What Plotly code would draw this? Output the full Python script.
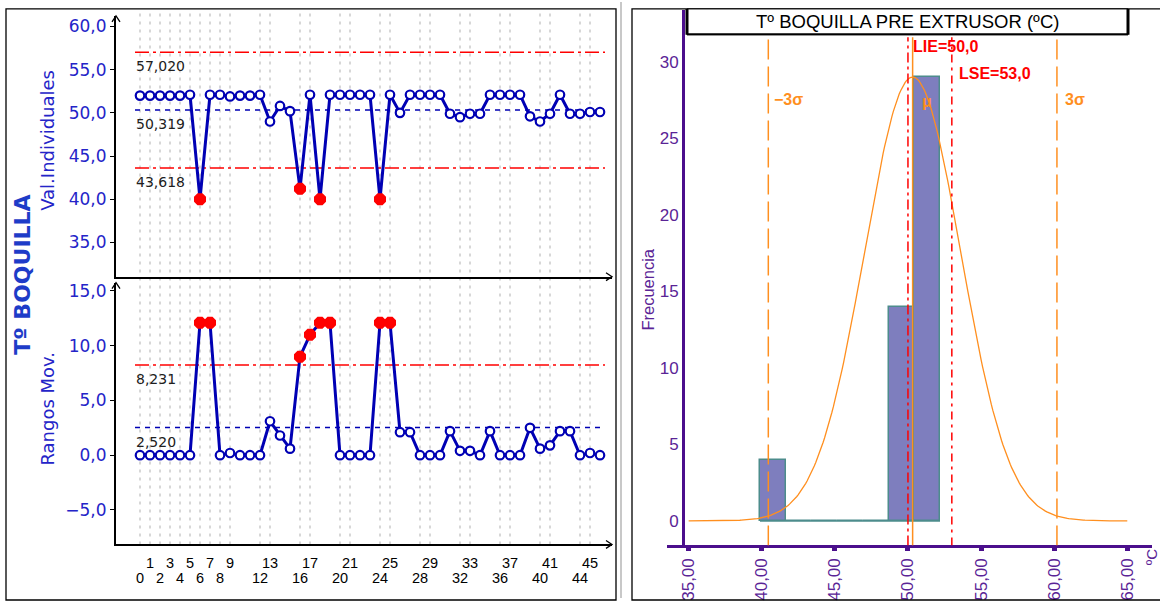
import numpy as np
import plotly.graph_objects as go

W, H = 1160, 601

# Individual readings of the nozzle temperature (ºC), in sampling order
valores = [52.0, 52.0, 52.0, 52.0, 52.0, 52.1, 40.0, 52.1, 52.1, 51.9,
           52.0, 52.0, 52.1, 49.0, 50.8, 50.2, 41.2, 52.1, 40.0, 52.1,
           52.1, 52.1, 52.1, 52.1, 40.0, 52.1, 50.0, 52.1, 52.1, 52.1,
           52.1, 49.9, 49.5, 49.9, 49.9, 52.1, 52.1, 52.1, 52.1, 49.6,
           49.0, 49.9, 52.1, 49.9, 49.9, 50.1, 50.1]
# Moving ranges between consecutive readings
rangos = [0.0, 0.0, 0.0, 0.0, 0.0, 0.0, 12.1, 12.1, 0.0, 0.2,
          0.0, 0.0, 0.0, 3.1, 1.8, 0.6, 9.0, 11.0, 12.1, 12.1,
          0.0, 0.0, 0.0, 0.0, 12.1, 12.1, 2.1, 2.1, 0.0, 0.0,
          0.0, 2.2, 0.4, 0.4, 0.0, 2.2, 0.0, 0.0, 0.0, 2.5,
          0.6, 0.9, 2.2, 2.2, 0.0, 0.2, 0.0]
muestras = list(range(len(valores)))

# Control limits
lsc_i, media_i, lic_i = 57.020, 50.319, 43.618
lsc_r, media_r = 8.231, 2.520

# Labelled sample positions on the shared axis
marcas = [0, 1, 2, 3, 4, 5, 6, 7, 8, 9, 12, 13, 16, 17, 20, 21, 24, 25,
          28, 29, 32, 33, 36, 37, 40, 41, 44, 45]

# Histogram
bordes = [39.88, 41.64, 43.40, 45.16, 46.92, 48.67, 50.43, 52.19]
frecuencias = [4, 0, 0, 0, 0, 14, 29]
mu, sigma = 50.319, 3.29
lie, lse = 50.0, 53.0
titulo_hist = "Tº BOQUILLA PRE EXTRUSOR (ºC)"

AZUL = "#0000b4"
AZUL_TXT = "#2424c8"
ROJO = "#ff0000"
NARANJA = "#ff8f1f"
MORADO = "#4b0f8c"
MORADO_TXT = "#5a2496"


def px(x):
    return x / W


def py(y):
    return 1 - y / H


def coma(v, d):
    return f"{v:.{d}f}".replace(".", ",")


fig = go.Figure()

# ---------- individual values chart ----------
x_lo, x_hi = muestras[0] - 0.5, muestras[-1] + 0.5
for lim, col, dash in [(lsc_i, ROJO, "14px,4px,3px,4px"),
                       (media_i, AZUL, "5px,5px"),
                       (lic_i, ROJO, "14px,4px,3px,4px")]:
    fig.add_trace(go.Scatter(x=[x_lo, x_hi], y=[lim, lim], mode="lines",
                             line=dict(color=col, width=1.5, dash=dash),
                             xaxis="x", yaxis="y", hoverinfo="skip"))
fig.add_trace(go.Scatter(x=muestras, y=valores, mode="lines+markers",
                         line=dict(color=AZUL, width=3),
                         marker=dict(symbol="circle", size=8.5, color="white",
                                     line=dict(color=AZUL, width=2.2)),
                         xaxis="x", yaxis="y"))
fuera_i = [i for i, v in enumerate(valores) if v < lic_i or v > lsc_i]
fig.add_trace(go.Scatter(x=fuera_i, y=[valores[i] for i in fuera_i], mode="markers",
                         marker=dict(symbol="octagon", size=13, color=ROJO,
                                     line=dict(color=ROJO, width=0)),
                         xaxis="x", yaxis="y"))

# ---------- moving range chart ----------
for lim, col, dash in [(lsc_r, ROJO, "14px,4px,3px,4px"),
                       (media_r, AZUL, "5px,5px")]:
    fig.add_trace(go.Scatter(x=[x_lo, x_hi], y=[lim, lim], mode="lines",
                             line=dict(color=col, width=1.5, dash=dash),
                             xaxis="x2", yaxis="y2", hoverinfo="skip"))
fig.add_trace(go.Scatter(x=muestras, y=rangos, mode="lines+markers",
                         line=dict(color=AZUL, width=3),
                         marker=dict(symbol="circle", size=8.5, color="white",
                                     line=dict(color=AZUL, width=2.2)),
                         xaxis="x2", yaxis="y2"))
fuera_r = [i for i, v in enumerate(rangos) if v > lsc_r]
fig.add_trace(go.Scatter(x=fuera_r, y=[rangos[i] for i in fuera_r], mode="markers",
                         marker=dict(symbol="octagon", size=13, color=ROJO,
                                     line=dict(color=ROJO, width=0)),
                         xaxis="x2", yaxis="y2"))

# ---------- histogram ----------
centros = [(a + b) / 2 for a, b in zip(bordes[:-1], bordes[1:])]
anchos = [b - a for a, b in zip(bordes[:-1], bordes[1:])]
fig.add_trace(go.Scatter(x=[bordes[0], bordes[-1]], y=[0, 0], mode="lines",
                         line=dict(color="#4d8c8c", width=1.5),
                         xaxis="x3", yaxis="y3", hoverinfo="skip"))
fig.add_trace(go.Bar(x=centros, y=frecuencias, width=anchos,
                     marker=dict(color="#7e7ebe", line=dict(color="#4d8c8c", width=1.5)),
                     xaxis="x3", yaxis="y3"))
xs = np.linspace(35, 65, 301)
curva = max(frecuencias) * np.exp(-0.5 * ((xs - mu) / sigma) ** 2)
fig.add_trace(go.Scatter(x=xs, y=curva, mode="lines",
                         line=dict(color=NARANJA, width=1.3),
                         xaxis="x3", yaxis="y3", hoverinfo="skip"))

shapes = []
annotations = []

# vertical grid of the control charts
for t in marcas:
    shapes.append(dict(type="line", xref="x", yref="paper", x0=t, x1=t,
                       y0=py(547), y1=py(8), layer="below",
                       line=dict(color="#bdbdbd", width=1.2, dash="3px,5px")))

# reference lines on the histogram
y_bot, y_top = -1.6, 31.6
for xv, col, dash, wd in [(mu - 3 * sigma, NARANJA, "20px,7px", 1.5),
                          (mu + 3 * sigma, NARANJA, "20px,7px", 1.5),
                          (mu, NARANJA, "solid", 1.5),
                          (lie, ROJO, "10px,4px,3px,4px", 1.5),
                          (lse, ROJO, "8px,5px,3px,5px", 1.5)]:
    shapes.append(dict(type="line", xref="x3", yref="y3", x0=xv, x1=xv,
                       y0=y_bot, y1=y_top, line=dict(color=col, width=wd, dash=dash)))

# panel frames
shapes.append(dict(type="rect", xref="paper", yref="paper", x0=px(6), x1=px(616),
                   y0=py(603), y1=py(7), line=dict(color="black", width=1.3)))
shapes.append(dict(type="rect", xref="paper", yref="paper", x0=px(632), x1=px(1166),
                   y0=py(603), y1=py(7), line=dict(color="black", width=1.3)))
shapes.append(dict(type="line", xref="paper", yref="paper", x0=px(621), x1=px(621),
                   y0=0, y1=1, line=dict(color="#c8c8c8", width=2)))

# title box of the histogram
shapes.append(dict(type="rect", xref="paper", yref="paper", x0=px(687), x1=px(1128),
                   y0=py(33), y1=py(7), fillcolor="white", line=dict(color="black", width=1)))
for x0, x1, y0, y1, wd in [(687, 687, 7, 33, 3), (1128, 1128, 7, 33, 3), (687, 1128, 32.5, 32.5, 2)]:
    shapes.append(dict(type="line", xref="paper", yref="paper", x0=px(x0), x1=px(x1),
                       y0=py(y0), y1=py(y1), line=dict(color="black", width=wd)))

# arrow tips on the control chart axes
for (ax, ay) in [(116, 14), (116, 283)]:
    shapes.append(dict(type="path", xref="paper", yref="paper",
                       path=f"M {px(ax-4)},{py(ay+6)} L {px(ax)},{py(ay)} L {px(ax+4)},{py(ay+6)}",
                       line=dict(color="black", width=1.3)))
for (ax, ay) in [(612, 277), (612, 547)]:
    shapes.append(dict(type="path", xref="paper", yref="paper",
                       path=f"M {px(ax-6)},{py(ay-4)} L {px(ax)},{py(ay)} L {px(ax-6)},{py(ay+4)}",
                       line=dict(color="black", width=1.3)))

# limit values written under their lines
for lim, ya in [(lsc_i, "y"), (media_i, "y"), (lic_i, "y"), (lsc_r, "y2"), (media_r, "y2")]:
    annotations.append(dict(text=coma(lim, 3), xref="paper", yref=ya, x=px(134), y=lim,
                            xanchor="left", yanchor="middle", yshift=-14, showarrow=False,
                            font=dict(family="DejaVu Sans", size=14, color="#202020")))

# two-row sample labels
for t in marcas:
    fila = 566 if t % 2 else 581
    annotations.append(dict(text=str(t), xref="x2", yref="paper", x=t, y=py(fila),
                            xanchor="center", yanchor="middle", showarrow=False,
                            font=dict(family="Liberation Sans", size=14.5, color="black")))

# axis titles of the control charts
annotations.append(dict(text="Tº BOQUILLA", xref="paper", yref="paper", x=px(23), y=py(275),
                        textangle=-90, showarrow=False, xanchor="center", yanchor="middle",
                        font=dict(family="DejaVu Sans", size=22, color="#1e3cc8", weight="bold")))
annotations.append(dict(text="Val.Individuales", xref="paper", yref="paper", x=px(48), y=py(140),
                        textangle=-90, showarrow=False, xanchor="center", yanchor="middle",
                        font=dict(family="DejaVu Sans", size=18, color=AZUL_TXT)))
annotations.append(dict(text="Rangos Mov.", xref="paper", yref="paper", x=px(48), y=py(410),
                        textangle=-90, showarrow=False, xanchor="center", yanchor="middle",
                        font=dict(family="DejaVu Sans", size=18, color=AZUL_TXT)))

# histogram texts
annotations.append(dict(text=titulo_hist, xref="paper", yref="paper", x=px(907), y=py(20),
                        showarrow=False, xanchor="center", yanchor="middle",
                        font=dict(family="Liberation Sans", size=18.5, color="black")))
annotations.append(dict(text="Frecuencia", xref="paper", yref="paper", x=px(648), y=py(290),
                        textangle=-90, showarrow=False, xanchor="center", yanchor="middle",
                        font=dict(family="Liberation Sans", size=16.5, color=MORADO_TXT)))
annotations.append(dict(text="ºC", xref="paper", yref="paper", x=px(1151), y=py(560),
                        textangle=-90, showarrow=False, xanchor="center", yanchor="middle",
                        font=dict(family="Liberation Sans", size=15, color=MORADO_TXT)))
for txt, xv, ypix, col, dx in [(f"LIE={coma(lie, 1)}", lie, 45, ROJO, 3),
                               (f"LSE={coma(lse, 1)}", lse, 72, ROJO, 5),
                               ("−3σ", mu - 3 * sigma, 98, NARANJA, 4),
                               ("3σ", mu + 3 * sigma, 98, NARANJA, 6),
                               ("μ", mu, 100, NARANJA, 7)]:
    annotations.append(dict(text=f"<b>{txt}</b>", xref="x3", yref="paper", x=xv, y=py(ypix),
                            xanchor="left", yanchor="middle", xshift=dx, showarrow=False,
                            font=dict(family="Liberation Sans", size=16, color=col)))

tick_i = dict(family="DejaVu Sans", size=17, color=AZUL_TXT)
fig.update_layout(
    width=W, height=H, margin=dict(l=0, r=0, t=0, b=0),
    paper_bgcolor="white", plot_bgcolor="rgba(0,0,0,0)",
    showlegend=False, separators=",.", bargap=0,
    xaxis=dict(domain=[px(116), px(612)], range=[-2.4, 47.2], anchor="y",
               showticklabels=False, ticks="", showgrid=False, zeroline=False,
               showline=True, linecolor="black", linewidth=2),
    yaxis=dict(domain=[py(277), py(14)], range=[31.03, 61.23], anchor="x",
               tickvals=[35, 40, 45, 50, 55, 60], tickformat=".1f", tickfont=tick_i,
               ticks="outside", ticklen=4, tickcolor="black", showgrid=False,
               zeroline=False, showline=True, linecolor="black", linewidth=2),
    xaxis2=dict(domain=[px(116), px(612)], range=[-2.4, 47.2], anchor="y2",
                showticklabels=False, ticks="", showgrid=False, zeroline=False,
                showline=True, linecolor="black", linewidth=2),
    yaxis2=dict(domain=[py(547), py(283)], range=[-8.15, 15.76], anchor="x2",
                tickvals=[-5, 0, 5, 10, 15], tickformat=".1f", tickfont=tick_i,
                ticks="outside", ticklen=4, tickcolor="black", showgrid=False,
                zeroline=False, showline=True, linecolor="black", linewidth=2),
    xaxis3=dict(domain=[px(667), px(1152)], range=[33.52, 66.69], anchor="y3",
                tickvals=[35, 40, 45, 50, 55, 60, 65], tickformat=".2f", tickangle=-90,
                tickfont=dict(family="Liberation Sans", size=17, color=MORADO_TXT),
                ticks="outside", ticklen=3, tickwidth=5, tickcolor=MORADO,
                showgrid=False, zeroline=False, showline=True, linecolor=MORADO, linewidth=3),
    yaxis3=dict(domain=[py(548), py(8)], range=[-1.6, 33.39], anchor="free", position=px(683),
                tickvals=[0, 5, 10, 15, 20, 25, 30],
                tickfont=dict(family="Liberation Sans", size=17, color=MORADO_TXT),
                ticks="", showgrid=False, zeroline=False, showline=True,
                linecolor=MORADO, linewidth=3),
    shapes=shapes, annotations=annotations,
)

fig.write_html("out.html")
